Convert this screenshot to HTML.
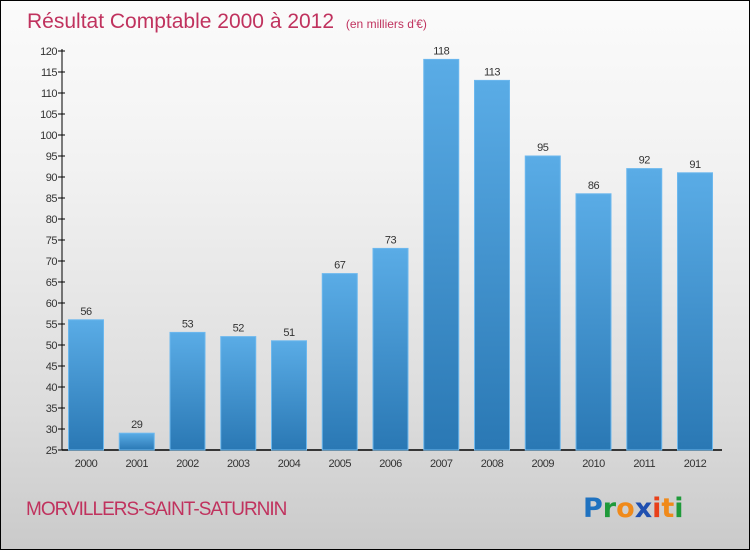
<!DOCTYPE html>
<html><head><meta charset="utf-8"><style>
body{margin:0}
#wrap{position:relative;width:748px;height:548px;border:1px solid #000;background:linear-gradient(#fbfbfb,#f2f2f2 30%,#dcdcdc 75%,#cacaca);overflow:hidden;font-family:"Liberation Sans",sans-serif}
</style></head><body>
<div id="wrap">
<svg width="748" height="548">
<defs><linearGradient id="bg" x1="0" y1="0" x2="0" y2="1"><stop offset="0" stop-color="#5aace6"/><stop offset="1" stop-color="#2a78b4"/></linearGradient></defs>
<text x="26" y="27" font-size="21" fill="#c0325e">Résultat Comptable 2000 à 2012 <tspan font-size="12" dx="6">(en milliers d'€)</tspan></text>
<g id="axes"></g><g id="bars"></g>
<text x="25" y="514" font-size="19" fill="#c0325e" letter-spacing="-1">MORVILLERS-SAINT-SATURNIN</text>
<text x="582" y="516" font-size="27" font-family="DejaVu Sans" font-weight="bold"><tspan fill="#1f72c0">P</tspan><tspan fill="#1f9a3a">r</tspan><tspan fill="#f08a1a">o</tspan><tspan fill="#1f4fb0">x</tspan><tspan fill="#e8401a">i</tspan><tspan fill="#f08a1a">t</tspan><tspan fill="#1f9a3a">i</tspan></text>
</svg></div>
<script>
const years=["2000","2001","2002","2003","2004","2005","2006","2007","2008","2009","2010","2011","2012"];
const values=[56,29,53,52,51,67,73,118,113,95,86,92,91];
const ticks=[25,30,35,40,45,50,55,60,65,70,75,80,85,90,95,100,105,110,115,120];
const NS="http://www.w3.org/2000/svg";
const y0=449,y1=50,vmin=25,vmax=120;
const y=v=>y0-(v-vmin)/(vmax-vmin)*(y0-y1);
const x=i=>85+i*50.75;
const ax=document.getElementById('axes'),bs=document.getElementById('bars');
function mk(t,a,p){const e=document.createElementNS(NS,t);for(const k in a)e.setAttribute(k,a[k]);p.appendChild(e);return e;}
let l=mk('line',{x1:61,y1:y1-2,x2:61,y2:y0,stroke:'#000'},ax);


l=mk('line',{x1:61,y1:y0,x2:721,y2:y0,stroke:'#000','stroke-width':1.5},ax);


ticks.forEach(t=>{mk('line',{x1:57,x2:64,y1:y(t),y2:y(t),stroke:'#000'},ax);
const tx=mk('text',{x:56,y:y(t)+4,'font-size':11,'text-anchor':'end',fill:'#333','letter-spacing':'-0.5'},ax);tx.textContent=t;

});
years.forEach((yr,i)=>{const v=values[i];
const r=mk('rect',{x:x(i)-17.5,y:y(v),width:35,height:y0-y(v),fill:'url(#bg)',stroke:'#6cb8ee','stroke-width':1},bs);


const t=mk('text',{x:x(i),y:y(v)-5,'font-size':11,'text-anchor':'middle',fill:'#333','letter-spacing':'-0.5'},bs);t.textContent=v;


const xl=mk('text',{x:x(i),y:466,'font-size':11,'text-anchor':'middle',fill:'#333','letter-spacing':'-0.5'},bs);xl.textContent=yr;

});
</script>
</body></html>
